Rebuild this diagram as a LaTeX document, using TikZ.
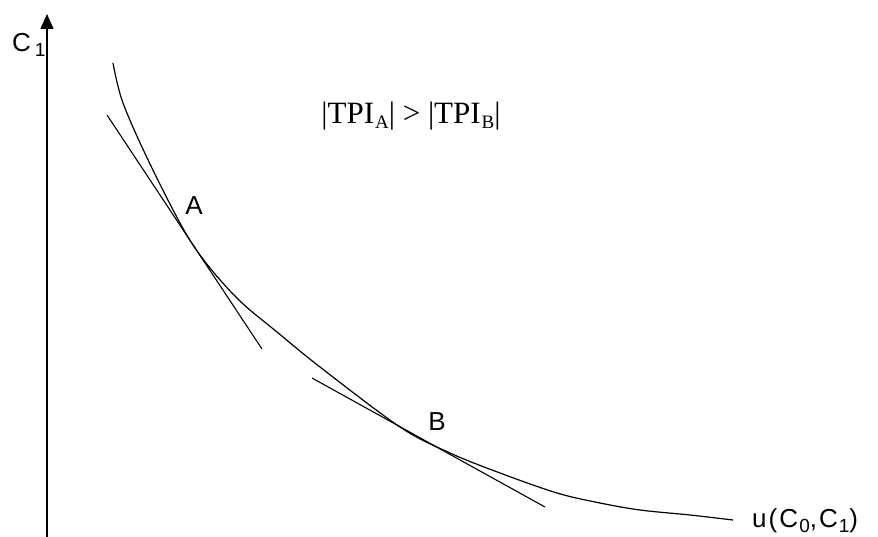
\documentclass[tikz,border=0pt]{standalone}
\usepackage{fontspec}
\setmainfont{Liberation Sans}
\newfontfamily\labelfont[LetterSpace=8]{Liberation Sans}
\newfontfamily\tpifont{Liberation Serif}
\usetikzlibrary{arrows.meta}
\newcommand{\lowsub}[1]{\kern1pt\raisebox{-5pt}{\fontsize{19}{21}\selectfont #1}}

\begin{document}
\begin{tikzpicture}[
  x=1pt, y=-1pt,
  axis/.style={draw=black, line width=1.6pt, -{Triangle[length=15pt,width=13pt]}},
  curve/.style={draw=black, line width=1.2pt},
  tangent/.style={draw=black, line width=1.1pt},
  lbl/.style={font=\labelfont\fontsize{26}{30}\selectfont, inner sep=0pt},
  note/.style={font=\tpifont\fontsize{31}{35}\selectfont, inner sep=0pt}
]
\useasboundingbox (0,0) rectangle (878,537);

% vertical axis
\coordinate (origin) at (47,537);
\coordinate (ytop) at (47,14);
\draw[axis] (origin) -- (ytop);
\node[lbl, anchor=base west] (ylabel) at (12,52) {C\kern3pt\lowsub{1}};

% indifference curve
\draw[curve] plot[smooth, tension=0.55] coordinates {(113,63) (123,103) (150,164) (185,232) (210,268) (241,302) (277,332) (320,367) (400,427) (450,453) (500,473) (557,493) (600,503) (640,510) (690,515) (733,520)};
\node[lbl, anchor=base west] (ulabel) at (752,527) {u(C\lowsub{0},C\lowsub{1})};

% tangents at A and B
\coordinate (tA1) at (107,115);
\coordinate (tA2) at (262,349);
\coordinate (tB1) at (312,378);
\coordinate (tB2) at (545,507);
\draw[tangent] (tA1) -- (tA2);
\draw[tangent] (tB1) -- (tB2);
\node[lbl] (A) at (194,206) {A};
\node[lbl] (B) at (437,422) {B};

\node[note, anchor=base] (tpi) at (411,124) {|TPI\lowsub{A}| > |TPI\lowsub{B}|};
\end{tikzpicture}
\end{document}
